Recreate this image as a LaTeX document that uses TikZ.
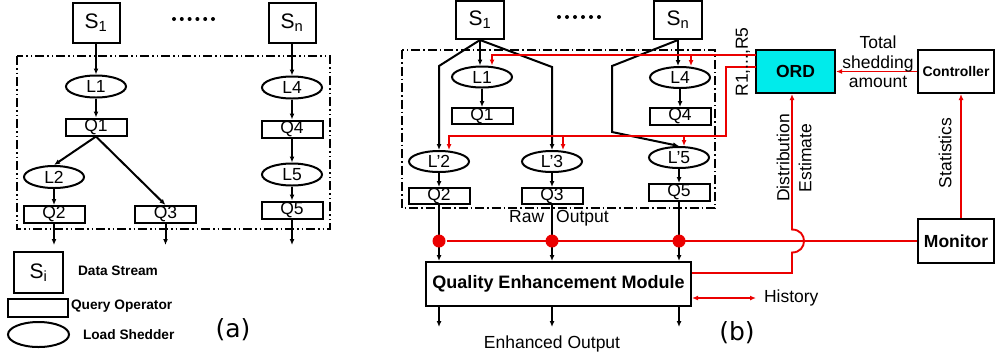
\documentclass[tikz,border=0pt]{standalone}
\usepackage{fontspec}
\setmainfont{Liberation Sans}
\newfontfamily\capfont{DejaVu Sans}
\usetikzlibrary{arrows.meta, shapes.geometric, positioning, calc}
\definecolor{ordcyan}{RGB}{0,235,235}
\definecolor{linkred}{RGB}{235,0,0}

\begin{document}
\begin{tikzpicture}[x=1pt, y=-1pt, line width=2pt, >={Latex[length=6pt,width=5pt]},
    every node/.style={font=\fontsize{17.5}{19.5}\selectfont, inner sep=0pt},
    sbox/.style={draw, minimum width=47pt, minimum height=40pt, font=\fontsize{21}{23}\selectfont},
    qbox/.style={draw, minimum width=61pt, minimum height=17pt},
    lshed/.style={draw, ellipse, minimum width=60pt, minimum height=22pt},
    bbox/.style={draw, font=\bfseries\fontsize{17.5}{19.5}\selectfont},
    legend/.style={anchor=west, font=\bfseries\fontsize{13.7}{15}\selectfont},
    groupbox/.style={draw, line width=1.5pt},
    redline/.style={draw=linkred, line width=1.9pt},
    reddot/.style={circle, fill=linkred, minimum size=13pt},
    caption/.style={font=\capfont\fontsize{25}{27}\selectfont}]
  \useasboundingbox (0,0) rectangle (995,360);

  % (a) single plan
  \node[sbox] (s1a) at (96,22.5) {S\textsubscript{1}};
  \node[sbox] (sna) at (292,22.5) {S\textsubscript{n}};
  \foreach \i in {0,...,5} \fill (174+\i*7.8,19) circle (2);
  \draw[groupbox, dash pattern=on 9pt off 3pt on 1.5pt off 3pt on 1.5pt off 3pt] (17,56) rectangle (330,229);

  \node[lshed] (l1a) at (96,86.5) {L1};
  \node[qbox] (q1a) at (96,127) {Q1};
  \node[lshed] (l2a) at (54,177) {L2};
  \node[qbox] (q2a) at (54,214.5) {Q2};
  \node[qbox] (q3a) at (165.5,214.5) {Q3};
  \node[lshed] (l4a) at (292,87.5) {L4};
  \node[qbox] (q4a) at (292,129) {Q4};
  \node[lshed] (l5a) at (292,174.5) {L5};
  \node[qbox] (q5a) at (292,210) {Q5};

  \draw[->] (s1a) -- (l1a);
  \draw[->] (l1a) -- (q1a);
  \draw[->] (q1a.south) -- (l2a.north);
  \draw[->] (q1a.south) -- (q3a.north);
  \draw[->] (l2a) -- (q2a);
  \draw[->] (sna) -- (l4a);
  \draw[->] (l4a) -- (q4a);
  \draw[->] (q4a) -- (l5a);
  \draw[->] (l5a) -- (q5a);

  \coordinate (o2a) at (54,245);
  \coordinate (o3a) at (165.5,245);
  \coordinate (o5a) at (292,245);
  \draw[->] (q2a.south) -- (o2a);
  \draw[->] (q3a.south) -- (o3a);
  \draw[->] (q5a.south) -- (o5a);

  % legend
  \node[sbox, minimum width=49pt, minimum height=41pt] (sia) at (38.5,272.5) {S\textsubscript{i}};
  \node[legend] (dsa) at (77,271) {Data Stream};
  \node[qbox, minimum width=60pt, minimum height=18pt] (qoa) at (38,308) {};
  \node[legend] (qta) at (70,306) {Query Operator};
  \node[lshed, minimum width=61pt, minimum height=25pt] (lsa) at (38.5,334.5) {};
  \node[legend] (lta) at (82,335) {Load Shedder};
  \node[caption] (capa) at (233,330) {(a)};

  % (b) shared plan with ORD
  \node[sbox, minimum width=48pt, minimum height=38pt] (s1b) at (480,20) {S\textsubscript{1}};
  \node[sbox, minimum width=48pt, minimum height=38pt] (snb) at (678,20) {S\textsubscript{n}};
  \foreach \i in {0,...,5} \fill (559+\i*8,17) circle (2);
  \draw[groupbox, dash pattern=on 9pt off 3pt on 1.5pt off 3pt] (402,50) rectangle (715,208);

  \node[lshed, minimum height=21pt] (l1b) at (482,77) {L1};
  \node[qbox, minimum height=16pt] (q1b) at (482,116) {Q1};
  \node[lshed, minimum height=21pt] (l4b) at (680,77.5) {L4};
  \node[qbox] (q4b) at (680,116.5) {Q4};
  \node[lshed, minimum height=21pt] (l2b) at (439,161.5) {L'2};
  \node[qbox, minimum height=16pt] (q2b) at (439,196) {Q2};
  \node[lshed, minimum height=21pt] (l3b) at (552,161.5) {L'3};
  \node[qbox, minimum height=16pt] (q3b) at (552,196) {Q3};
  \node[lshed, minimum height=21pt] (l5b) at (679,157.5) {L'5};
  \node[qbox] (q5b) at (679,192.5) {Q5};

  \coordinate (k2) at (439,66);
  \coordinate (k3) at (552,67);
  \coordinate (k5) at (612,66);
  \coordinate (k5b) at (612,132);
  \draw[->] (s1b.south) -- (s1b.south |- l1b.north);
  \draw[->] (s1b.south) -- (k2) -- (l2b.north);
  \draw[->] (s1b.south) -- (k3) -- (l3b.north);
  \draw[->] (snb.south) -- (snb.south |- l4b.north);
  \draw[->] (snb.south) -- (k5) -- (k5b) -- (l5b.north);
  \draw[->] (l1b) -- (q1b);
  \draw[->] (l4b) -- (q4b);
  \draw[->] (l2b) -- (q2b);
  \draw[->] (l3b) -- (q3b);
  \draw[->] (l5b) -- (q5b);

  \node (raw) at (559,218) {Raw\hspace{12pt}Output};

  \node[bbox, minimum width=265pt, minimum height=44pt, font=\bfseries\fontsize{18}{20}\selectfont] (qem) at (558.5,284) {Quality Enhancement Module};
  \node[bbox, fill=ordcyan, minimum width=79pt, minimum height=43pt] (ord) at (795.5,71.5) {ORD};
  \node[bbox, minimum width=76pt, minimum height=43pt, font=\bfseries\fontsize{14}{16}\selectfont] (ctrl) at (956,71.5) {Controller};
  \node[bbox, minimum width=76pt, minimum height=44pt] (mon) at (956,241) {Monitor};

  \draw[->] (q2b.south) -- (q2b.south |- qem.north);
  \draw[->] (q3b.south) -- (q3b.south |- qem.north);
  \draw[->] (q5b.south) -- (q5b.south |- qem.north);

  \coordinate (e2) at (439,327);
  \coordinate (e3) at (552,327);
  \coordinate (e5) at (679,327);
  \draw[->] (qem.south -| e2) -- (e2);
  \draw[->] (qem.south -| e3) -- (e3);
  \draw[->] (qem.south -| e5) -- (e5);
  \node (enh) at (552,344) {Enhanced Output};

  % red feedback paths
  \node[reddot] (d2) at (439,241) {};
  \node[reddot] (d3) at (552,241) {};
  \node[reddot] (d5) at (679,241) {};
  \draw[redline] (d2) -- (mon.west);

  \coordinate (r5) at (756,55);
  \coordinate (t1) at (492,55);
  \coordinate (t4) at (691,55);
  \draw[redline, ->] (r5) -- (t1) -- (t1 |- l1b.north);
  \draw[redline, ->] (t4) -- (t4 |- l4b.north);

  \coordinate (r1) at (756,67);
  \coordinate (u1) at (726,67);
  \coordinate (u2) at (726,136);
  \coordinate (v2) at (449,136);
  \coordinate (v3) at (563,136);
  \coordinate (v5) at (684,136);
  \draw[redline, ->] (r1) -- (u1) -- (u2) -- (v2) -- (v2 |- l2b.north);
  \draw[redline, ->] (v3) -- (v3 |- l3b.north);
  \draw[redline, ->] (v5) -- (v5 |- l5b.north);
  \node[rotate=90] (rr) at (743,62) {R1,...,R5};

  \draw[redline, ->] (ctrl.west) -- (ord.east);
  \node[align=center] (tsa) at (878,62) {Total\\shedding\\amount};

  \coordinate (st) at (961,0);
  \draw[redline, ->] (mon.north -| st) -- (ctrl.south -| st);
  \node[rotate=90] (stat) at (945,153) {Statistics};

  \coordinate (de) at (792,273);
  \draw[redline, ->] (qem.east |- de) -- (de) -- (792,252.5)
    .. controls (808,252.5) and (808,229.5) .. (792,229.5) -- (ord.south -| de);
  \node[rotate=90, align=center, font=\fontsize{17.5}{22}\selectfont] (dist) at (794,158) {Distribution\\Estimate};

  \coordinate (hist) at (756,298);
  \draw[redline, <->] (qem.east |- hist) -- (hist);
  \node[anchor=west] (histl) at (763,298) {History};
  \node[caption] (capb) at (737,333) {(b)};
\end{tikzpicture}
\end{document}
